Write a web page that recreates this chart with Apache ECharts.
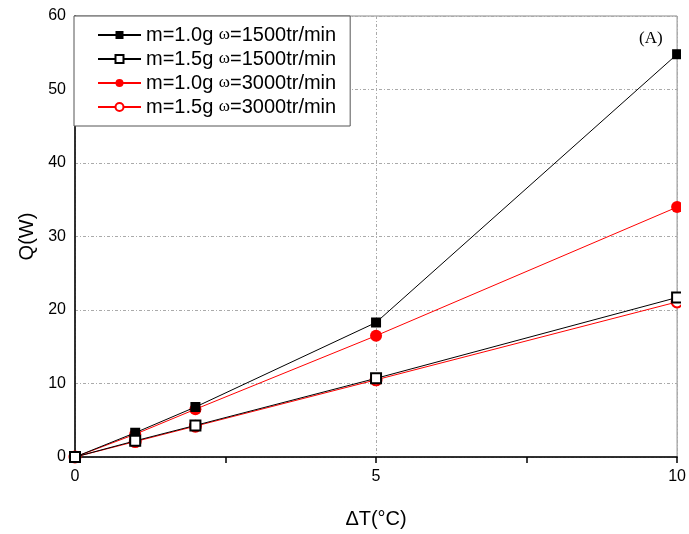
<!DOCTYPE html>
<html><head><meta charset="utf-8">
<script src="https://cdn.jsdelivr.net/npm/echarts@6/dist/echarts.min.js"></script>
<style>html,body{margin:0;padding:0;background:#fff}#c{width:689px;height:534px}</style>
</head><body><div id="c"></div>
<script>
const deltaT = [0, 1, 2, 5, 10];
const q_m10_w1500 = [0, 3.3, 6.8, 18.3, 54.8];
const q_m15_w1500 = [0, 2.2, 4.3, 10.7, 21.7];
const q_m10_w3000 = [0, 3.1, 6.5, 16.5, 34.0];
const q_m15_w3000 = [0, 2.1, 4.2, 10.5, 21.1];
const seriesNames = ['m=1.0g ω=1500tr/min','m=1.5g ω=1500tr/min','m=1.0g ω=3000tr/min','m=1.5g ω=3000tr/min'];
const xTicks = [0, 5, 10];
const yTicks = [0, 10, 20, 30, 40, 50, 60];

function pts(v){ return deltaT.map((x,i)=>[x, v[i]]); }
const chart = echarts.init(document.getElementById('c'));
chart.setOption({
  animation:false,
  backgroundColor:'#fff',
  grid:{left:75, right:9, top:16, bottom:73, show:true, borderColor:'#888', borderWidth:1},
  xAxis:{type:'value', min:0, max:10, interval:5,
    name:'ΔT(°C)', nameLocation:'middle', nameGap:52,
    nameTextStyle:{fontFamily:'Liberation Sans', fontSize:20, color:'#000'},
    axisLine:{lineStyle:{color:'#000', width:1.5}},
    axisTick:{show:true, inside:false, length:6, lineStyle:{color:'#000', width:1.5}},
    minorTick:{show:true, splitNumber:2, length:6, lineStyle:{color:'#000', width:1.5}},
    axisLabel:{fontFamily:'Liberation Sans', fontSize:16, color:'#000', margin:12},
    splitLine:{show:true, lineStyle:{color:'#aaa', type:[3,2,1,2], width:1}}
  },
  yAxis:{type:'value', min:0, max:60, interval:10,
    name:'Q(W)', nameLocation:'middle', nameGap:38,
    nameTextStyle:{fontFamily:'Liberation Sans', fontSize:20, color:'#000'},
    axisLine:{show:true, lineStyle:{color:'#000', width:1.5}},
    axisTick:{show:false},
    axisLabel:{fontFamily:'Liberation Sans', fontSize:16, color:'#000', margin:9},
    splitLine:{show:true, lineStyle:{color:'#aaa', type:[3,2,1,2], width:1}}
  },
  legend:{left:74, top:16, orient:'vertical', backgroundColor:'#fff', borderColor:'#555', borderWidth:1,
    padding:[9,14,9,23], itemGap:4, itemWidth:43, itemHeight:10,
    data:seriesNames,
    formatter:function(n){ const p=n.split(' '); return '{a|'+p[0]+' }{w|ω}{a|'+p[1].slice(1)+'}'; },
    textStyle:{rich:{a:{fontFamily:'Liberation Sans', fontSize:20, color:'#000', height:21}, w:{fontFamily:'Liberation Serif', fontSize:17, color:'#000'}}}
  },
  graphic:[
    {type:'text', left:639, top:30, style:{text:'(A)', font:'17px "Liberation Serif"', fill:'#000'}},
    {type:'rect', shape:{x:681, y:0, width:8, height:459}, style:{fill:'#fff'}, z:100, zlevel:1}
  ],
  series:[
    {name:seriesNames[2], type:'line', data:pts(q_m10_w3000), symbol:'circle', symbolSize:12, z:2,
      itemStyle:{color:'#ff0000'}, lineStyle:{color:'#ff0000', width:1}},
    {name:seriesNames[3], type:'line', data:pts(q_m15_w3000), symbol:'emptyCircle', symbolSize:11, z:2,
      itemStyle:{color:'#ff0000', borderColor:'#ff0000', borderWidth:1}, lineStyle:{color:'#ff0000', width:1}},
    {name:seriesNames[0], type:'line', data:pts(q_m10_w1500), symbol:'rect', symbolSize:10, z:3,
      itemStyle:{color:'#000'}, lineStyle:{color:'#000', width:1}},
    {name:seriesNames[1], type:'line', data:pts(q_m15_w1500), symbol:'emptyRect', symbolSize:10, z:3,
      itemStyle:{color:'#000', borderColor:'#444', borderWidth:1}, lineStyle:{color:'#000', width:1}}
  ]
});
</script></body></html>
